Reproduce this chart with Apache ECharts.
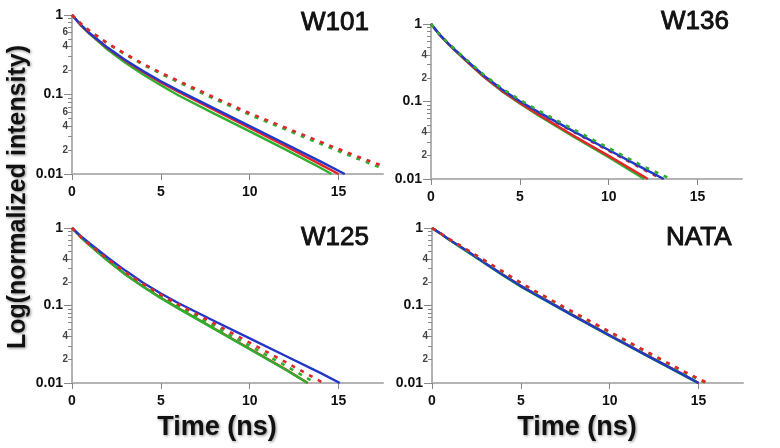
<!DOCTYPE html>
<html>
<head>
    <meta charset="utf-8">
    <title>Fluorescence decays</title>
    <script src="https://cdn.jsdelivr.net/npm/echarts@6.0.0/dist/echarts.min.js"></script>
</head>
<style>
    body { margin: 0; background: #fff; }
</style>
<body>
<div id="main" style="width: 780px; height: 448px;"></div>
<script>
const panelNames = ['W101', 'W136', 'W125', 'NATA'];
const xTicks = [0, 5, 10, 15];
const yMajorTicks = [0.01, 0.1, 1];
const yMinorTicks = [0.02, 0.03, 0.04, 0.05, 0.06, 0.07, 0.08, 0.09, 0.2, 0.3, 0.4, 0.5, 0.6, 0.7, 0.8, 0.9];
const yLabelsW101 = [0.01, 0.02, 0.04, 0.06, 0.1, 0.2, 0.4, 0.6, 1];
const yLabelsOther = [0.01, 0.02, 0.04, 0.1, 0.2, 0.4, 1];

// [time ns, normalized intensity]
const w101Blue = [[0,1],[0.5,0.75],[1,0.589],[2,0.389],[3,0.272],[4,0.197],[5,0.147],[6,0.112],[8,0.0668],[10,0.0401],[12,0.024],[14,0.0143],[15.35,0.01]];
const w101Red = [[0,1],[0.5,0.745],[1,0.583],[2,0.383],[3,0.266],[4,0.192],[5,0.142],[6,0.108],[8,0.0638],[10,0.038],[12,0.0226],[14,0.0131],[15.0,0.01]];
const w101Green = [[0,1],[0.5,0.742],[1,0.575],[2,0.368],[3,0.25],[4,0.178],[5,0.131],[6,0.097],[8,0.0575],[10,0.0343],[12,0.0204],[14,0.0119],[14.6,0.01]];
const w101DashRed = [[0,1],[0.5,0.776],[1,0.631],[2,0.442],[3,0.324],[4,0.243],[5,0.188],[6,0.148],[8,0.092],[10,0.0582],[12,0.0384],[14,0.0253],[16,0.0168],[17.5,0.0126]];
const w101DashGreen = [[0,1],[0.5,0.775],[1,0.628],[2,0.437],[3,0.318],[4,0.237],[5,0.182],[6,0.142],[8,0.088],[10,0.0556],[12,0.0364],[14,0.0239],[16,0.0158],[17.5,0.0117]];

const w136Blue = [[0,1],[0.5,0.724],[1,0.55],[2,0.339],[3,0.214],[4,0.143],[5,0.101],[6,0.0741],[8,0.0415],[10,0.0237],[12,0.0135],[13.1,0.01]];
const w136Red = [[0,1],[0.5,0.72],[1,0.545],[2,0.332],[3,0.207],[4,0.137],[5,0.096],[6,0.069],[8,0.0365],[10,0.0199],[12,0.0107],[12.2,0.01]];
const w136Green = [[0,1],[0.5,0.72],[1,0.543],[2,0.33],[3,0.205],[4,0.135],[5,0.094],[6,0.067],[8,0.0355],[10,0.0191],[12,0.01]];
const w136DashRed = [[0,1],[0.5,0.723],[1,0.549],[2,0.337],[3,0.212],[4,0.141],[5,0.0995],[6,0.073],[8,0.0408],[10,0.0232],[12,0.0131],[13.0,0.01]];
const w136DashGreen = [[0,1],[0.5,0.726],[1,0.555],[2,0.345],[3,0.219],[4,0.147],[5,0.105],[6,0.0775],[8,0.0438],[10,0.0251],[12,0.0144],[13.4,0.0102]];

const w125Blue = [[0,1],[0.5,0.785],[1,0.631],[2,0.417],[3,0.282],[4,0.197],[5,0.143],[6,0.107],[8,0.063],[10,0.0377],[12,0.0225],[14,0.0134],[15.07,0.01]];
const w125Red = [[0,1],[0.5,0.76],[1,0.598],[2,0.382],[3,0.253],[4,0.176],[5,0.126],[6,0.0922],[8,0.0505],[10,0.0276],[12,0.0151],[13.27,0.01]];
const w125Green = [[0,1],[0.5,0.759],[1,0.596],[2,0.38],[3,0.251],[4,0.174],[5,0.1245],[6,0.0912],[8,0.0499],[10,0.0273],[12,0.0149],[13.25,0.01]];
const w125DashRed = [[0,1],[0.5,0.767],[1,0.61],[2,0.398],[3,0.269],[4,0.19],[5,0.138],[6,0.103],[8,0.0586],[10,0.0331],[12,0.0187],[14.15,0.01]];
const w125DashGreen = [[0,1],[0.5,0.763],[1,0.603],[2,0.39],[3,0.26],[4,0.182],[5,0.131],[6,0.097],[8,0.0543],[10,0.0302],[12,0.0168],[13.7,0.01]];

const nataBlue = [[0,1],[0.5,0.84],[1,0.7],[2,0.5],[3,0.35],[4,0.248],[5,0.178],[6,0.132],[8,0.073],[10,0.041],[12,0.0232],[14,0.0133],[15,0.01]];
const nataRed = [[0,1],[0.5,0.84],[1,0.7],[2,0.5],[3,0.352],[4,0.25],[5,0.18],[6,0.133],[8,0.0735],[10,0.0413],[12,0.0234],[14,0.0134],[15,0.01]];
const nataGreen = [[0,1],[0.5,0.84],[1,0.695],[2,0.49],[3,0.345],[4,0.244],[5,0.175],[6,0.13],[8,0.072],[10,0.0405],[12,0.023],[14,0.0131],[14.95,0.01]];
const nataDashRed = [[0,1],[0.5,0.85],[1,0.715],[2,0.52],[3,0.378],[4,0.273],[5,0.197],[6,0.145],[8,0.081],[10,0.046],[12,0.026],[14,0.0148],[15.5,0.01]];
const nataDashGreen = [[0,1],[0.5,0.85],[1,0.71],[2,0.515],[3,0.373],[4,0.268],[5,0.193],[6,0.142],[8,0.079],[10,0.045],[12,0.0254],[14,0.0144],[15.4,0.01]];

const RED = '#e2252b', GREEN = '#2fae2f', BLUE = '#2236c8';
const FONT = "'Liberation Sans', Arial, sans-serif";

const panels = [
    { name: panelNames[0], labels: yLabelsW101, grid: { left: 72, top: 15, width: 311, height: 159 }, title: [301, 10],
      lines: [[w101Green, GREEN, false], [w101Red, RED, false], [w101Blue, BLUE, false], [w101DashGreen, GREEN, true], [w101DashRed, RED, true]] },
    { name: panelNames[1], labels: yLabelsOther, grid: { left: 431, top: 24, width: 311, height: 155 }, title: [661, 9],
      lines: [[w136Green, GREEN, false], [w136Red, RED, false], [w136DashRed, RED, true], [w136Blue, BLUE, false], [w136DashGreen, GREEN, true]] },
    { name: panelNames[2], labels: yLabelsOther, grid: { left: 72, top: 228, width: 311, height: 155 }, title: [301, 225],
      lines: [[w125Red, RED, false], [w125Green, GREEN, false], [w125Blue, BLUE, false], [w125DashGreen, GREEN, true], [w125DashRed, RED, true]] },
    { name: panelNames[3], labels: yLabelsOther, grid: { left: 432, top: 228, width: 311, height: 155 }, title: [666, 225],
      lines: [[nataRed, RED, false], [nataGreen, GREEN, false], [nataBlue, BLUE, false], [nataDashGreen, GREEN, true], [nataDashRed, RED, true]] }
];

function yLabel(v) {
    const isMajor = yMajorTicks.some(m => Math.abs(m - v) < 1e-9);
    if (isMajor) return '{maj|' + String(v) + '}';
    const d = Math.round(v / Math.pow(10, Math.floor(Math.log10(v) + 1e-9)));
    return '{mn|' + d + '}';
}

let grids = [], xAxes = [], yAxes = [], series = [], titles = [];
panels.forEach((p, i) => {
    grids.push(p.grid);
    titles.push({ text: p.name, left: p.title[0], top: p.title[1], padding: 0,
        textStyle: { fontSize: 26, fontWeight: 'normal', color: '#111', fontFamily: FONT, textBorderColor: '#111', textBorderWidth: 0.9 } });
    xAxes.push({
        type: 'value', gridIndex: i, min: 0, max: 17.5, interval: 5,
        axisLine: { lineStyle: { color: '#b4b4b4', width: 2 } },
        axisTick: { length: 6, customValues: xTicks, lineStyle: { color: '#888', width: 1 } },
        axisLabel: { customValues: xTicks, margin: 11, fontSize: 14, fontWeight: 'bold', color: '#111', fontFamily: FONT },
        splitLine: { show: false }
    });
    yAxes.push({
        type: 'log', logBase: 10, gridIndex: i, min: 0.01, max: 1,
        axisLine: { show: true, lineStyle: { color: '#999', width: 1.5 } },
        axisTick: { length: 4, customValues: yMinorTicks, lineStyle: { color: '#888' } },
        axisLabel: {
            customValues: p.labels, margin: 4, formatter: yLabel,
            rich: {
                maj: { fontSize: 14, fontWeight: 'bold', color: '#111', fontFamily: FONT, padding: [0, 5, 0, 0] },
                mn: { fontSize: 10, fontWeight: 'bold', color: '#444', fontFamily: FONT }
            }
        },
        splitLine: { show: false }
    });
    yAxes.push({
        type: 'log', logBase: 10, gridIndex: i, min: 0.01, max: 1, position: 'left',
        axisLine: { show: false },
        axisTick: { length: 8, customValues: yMajorTicks, lineStyle: { color: '#888' } },
        axisLabel: { show: false },
        splitLine: { show: false }
    });
    p.lines.forEach(l => {
        series.push({
            type: 'line', xAxisIndex: i, yAxisIndex: i * 2, data: l[0],
            symbol: 'none', smooth: false, silent: true,
            lineStyle: { color: l[1], width: l[2] ? 2.6 : 2.4, type: l[2] ? [4, 6] : 'solid', cap: 'butt', join: 'round' }
        });
    });
});

const shadowText = { textShadowColor: 'rgba(0,0,0,0.45)', textShadowBlur: 3, textShadowOffsetX: 1, textShadowOffsetY: 1 };

let myChart = echarts.init(document.getElementById('main'));
myChart.setOption({
    animation: false,
    textStyle: { fontFamily: FONT },
    title: titles,
    grid: grids,
    xAxis: xAxes,
    yAxis: yAxes,
    series: series,
    graphic: [
        { type: 'text', x: 18, y: 197, rotation: Math.PI / 2,
          style: Object.assign({ text: 'Log(normalized intensity)', font: 'bold 25px ' + FONT, fill: '#111', align: 'center', verticalAlign: 'middle' }, shadowText) },
        { type: 'text', x: 217, y: 428,
          style: Object.assign({ text: 'Time (ns)', font: 'bold 27px ' + FONT, fill: '#111', align: 'center', verticalAlign: 'middle' }, shadowText) },
        { type: 'text', x: 577, y: 428,
          style: Object.assign({ text: 'Time (ns)', font: 'bold 27px ' + FONT, fill: '#111', align: 'center', verticalAlign: 'middle' }, shadowText) }
    ]
});
</script>
</body>
</html>
